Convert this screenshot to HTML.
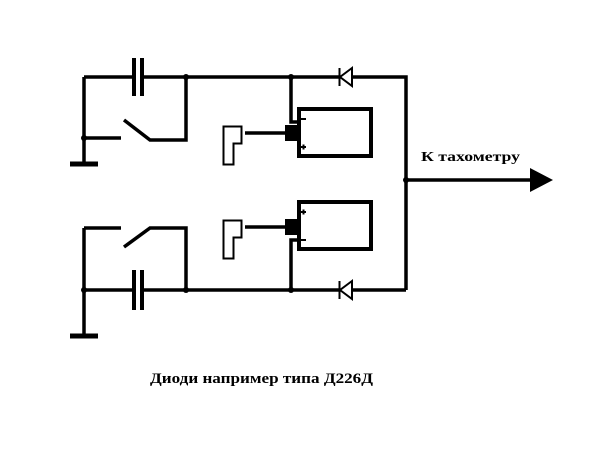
<!DOCTYPE html>
<html><head><meta charset="utf-8"><style>html,body{margin:0;padding:0;background:#fff}svg{display:block}</style></head>
<body>
<svg width="600" height="450" viewBox="0 0 600 450" xmlns="http://www.w3.org/2000/svg">
<g stroke="#000" stroke-width="3.5" fill="none">
<!-- top circuit -->
<path d="M84 77 H134 M142 77 H340 M352 77 H406 V290"/>
<path d="M134 58 V96 M142 58 V96" stroke-width="4"/>
<path d="M84 77 V163"/>
<path d="M70 164 H98" stroke-width="5"/>
<path d="M84 138 H121 M124 120 L150 140 H186 V77"/>
<path d="M291 77 V122 H297"/>
<rect x="299" y="109" width="72" height="47" stroke-width="4"/>
<path d="M245 133 H285"/>
<path d="M223.5 126.5 H241.5 V143.5 H233.5 V164.5 H223.5 Z" stroke-width="2"/>
<!-- bottom circuit -->
<path d="M84 290 H134 M142 290 H340 M352 290 H406"/>
<path d="M134 270 V310 M142 270 V310" stroke-width="4"/>
<path d="M84 228 V335"/>
<path d="M70 336 H98" stroke-width="5"/>
<path d="M84 228 H121 M124 247 L150 228 H186 V290"/>
<path d="M291 290 V240 H297"/>
<rect x="299" y="202" width="72" height="47" stroke-width="4"/>
<path d="M245 227 H285"/>
<path d="M223.5 220.5 H241.5 V237.5 H233.5 V258.5 H223.5 Z" stroke-width="2"/>
<!-- output -->
<path d="M406 180 H532"/>
</g>
<g fill="#000">
<rect x="285" y="125" width="12" height="16"/>
<rect x="285" y="219" width="12" height="16"/>
<circle cx="186" cy="77" r="3"/><circle cx="291" cy="77" r="3"/><circle cx="84" cy="138" r="3"/>
<circle cx="186" cy="290" r="3"/><circle cx="291" cy="290" r="3"/><circle cx="84" cy="290" r="3"/>
<circle cx="406" cy="180" r="3"/>
<polygon points="530,168 553,180 530,192"/>
<rect x="301" y="118" width="5" height="2"/>
<rect x="301" y="146" width="5" height="2"/><rect x="302.5" y="144.5" width="2" height="5"/>
<rect x="301" y="211" width="5" height="2"/><rect x="302.5" y="209.5" width="2" height="5"/>
<rect x="301" y="239" width="5" height="2"/>
<text x="421" y="161" font-family="Liberation Serif, serif" font-size="14" font-weight="bold" textLength="99" lengthAdjust="spacingAndGlyphs">К тахометру</text>
<text x="150" y="383" font-family="Liberation Serif, serif" font-size="15" font-weight="bold" textLength="223" lengthAdjust="spacingAndGlyphs">Диоди например типа Д226Д</text>
</g>
<g stroke="#000" stroke-width="2" fill="none">
<path d="M339.5 68 V86 M352 68 L340 77 L352 86 Z"/>
<path d="M339.5 281 V299 M352 281 L340 290 L352 299 Z"/>
</g>
</svg>
</body></html>
